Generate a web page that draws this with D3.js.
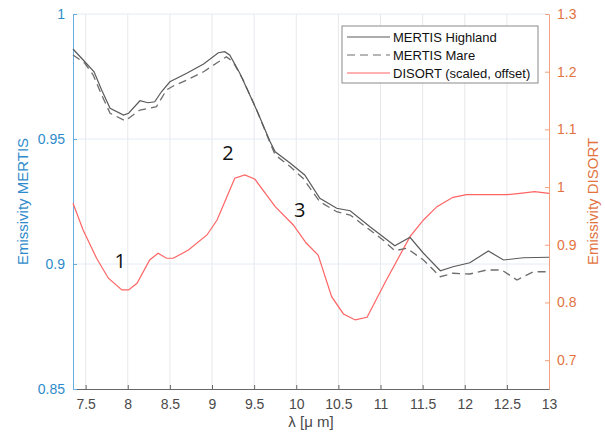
<!DOCTYPE html>
<html>
<head>
<meta charset="utf-8">
<script src="https://cdn.jsdelivr.net/npm/d3@7"></script>
<style>
  body { margin: 0; background: #fff; }
  svg { font-family: "Liberation Sans", Arial, sans-serif; }
</style>
</head>
<body>
<div id="chart"></div>
<script>
// wavelength [um] and emissivity values
const highlandX = [7.35, 7.49, 7.60, 7.69, 7.79, 7.95, 8.01, 8.145, 8.24, 8.32, 8.40, 8.50, 8.70, 8.90, 9.075, 9.15, 9.21, 9.33, 9.53, 9.69, 9.75, 9.93, 10.10, 10.28, 10.48, 10.64, 10.875, 11.03, 11.17, 11.35, 11.51, 11.71, 11.86, 12.06, 12.28, 12.46, 12.695, 13.0];
const highlandY = [0.986, 0.9809, 0.9769, 0.9696, 0.9623, 0.9596, 0.9603, 0.9653, 0.9645, 0.9649, 0.9689, 0.9729, 0.9763, 0.980, 0.9845, 0.9849, 0.9836, 0.9763, 0.9616, 0.9489, 0.9449, 0.9403, 0.9356, 0.9263, 0.9223, 0.9213, 0.9149, 0.9109, 0.9073, 0.9107, 0.9043, 0.8973, 0.8989, 0.9005, 0.9052, 0.9016, 0.9025, 0.9027];

const mareX = [7.35, 7.49, 7.59, 7.69, 7.79, 7.97, 8.145, 8.34, 8.46, 8.54, 8.70, 8.90, 9.06, 9.17, 9.25, 9.37, 9.53, 9.69, 9.75, 9.93, 10.08, 10.28, 10.48, 10.64, 10.875, 11.03, 11.17, 11.31, 11.51, 11.71, 11.86, 12.06, 12.26, 12.44, 12.62, 12.815, 13.0];
const mareY = [0.9836, 0.9803, 0.9756, 0.9676, 0.9603, 0.9573, 0.9616, 0.9629, 0.9696, 0.9712, 0.9736, 0.9769, 0.9805, 0.9829, 0.9809, 0.9736, 0.9616, 0.9484, 0.9436, 0.9389, 0.9343, 0.9249, 0.9209, 0.9196, 0.9136, 0.9096, 0.9053, 0.9063, 0.9016, 0.8949, 0.8963, 0.896, 0.8976, 0.8976, 0.8936, 0.8969, 0.8969];

const disortX = [7.35, 7.47, 7.63, 7.77, 7.93, 8.01, 8.11, 8.26, 8.36, 8.46, 8.54, 8.72, 8.94, 9.06, 9.27, 9.39, 9.51, 9.75, 9.965, 10.12, 10.26, 10.42, 10.56, 10.70, 10.84, 11.07, 11.35, 11.51, 11.67, 11.86, 12.02, 12.26, 12.50, 12.655, 12.83, 13.0];
const disortY = [0.9719, 0.9257, 0.8766, 0.842, 0.8217, 0.8217, 0.8333, 0.8737, 0.8853, 0.8766, 0.8766, 0.891, 0.917, 0.943, 1.0153, 1.021, 1.0135, 0.966, 0.9343, 0.9026, 0.8823, 0.81, 0.7801, 0.7697, 0.7743, 0.839, 0.914, 0.943, 0.966, 0.9823, 0.9868, 0.9868, 0.9868, 0.9892, 0.992, 0.9892];

const xTicks = [7.5, 8, 8.5, 9, 9.5, 10, 10.5, 11, 11.5, 12, 12.5, 13];
const leftTicks = [0.85, 0.9, 0.95, 1];
const rightTicks = [0.7, 0.8, 0.9, 1, 1.1, 1.2, 1.3];

const seriesNames = ["MERTIS Highland", "MERTIS Mare", "DISORT (scaled, offset)"];
const annotations = [
  {label: "1", x: 7.91, y: 0.8984},
  {label: "2", x: 9.19, y: 0.9416},
  {label: "3", x: 10.04, y: 0.9188}
];

const width = 605, height = 435;
const margin = {top: 14, right: 56, bottom: 46, left: 73};

const blue = "#2f8bcb", orange = "#e2733f";

const svg = d3.select("#chart").append("svg")
  .attr("width", width)
  .attr("height", height);

const x = d3.scaleLinear()
  .domain([7.35, 13])
  .range([margin.left, width - margin.right]);

const yL = d3.scaleLinear()
  .domain([0.85, 1])
  .range([height - margin.bottom, margin.top]);

const yR = d3.scaleLinear()
  .domain([0.65, 1.3])
  .range([height - margin.bottom, margin.top]);

// grid
svg.append("g").selectAll("line")
  .data(xTicks.slice(0, -1))
  .enter().append("line")
  .attr("x1", d => x(d)).attr("x2", d => x(d))
  .attr("y1", yL(0.85)).attr("y2", yL(1))
  .attr("stroke", "#e6e8ec").attr("stroke-width", 1);

svg.append("g").selectAll("line")
  .data([0.9, 0.95, 1])
  .enter().append("line")
  .attr("x1", x(7.35)).attr("x2", x(13))
  .attr("y1", d => yL(d)).attr("y2", d => yL(d))
  .attr("stroke", "#e3ecf6").attr("stroke-width", 1);

// x axis
const xAxis = svg.append("g")
  .attr("transform", `translate(0, ${height - margin.bottom})`)
  .call(d3.axisBottom(x).tickValues(xTicks).tickSize(-4).tickPadding(10).tickFormat(d3.format("")));
xAxis.select(".domain").attr("stroke", "#666");
xAxis.selectAll(".tick line").attr("stroke", "#666");
xAxis.selectAll("text").attr("fill", "#4a4a4a").style("font-size", "14px");

// left axis
const yAxisL = svg.append("g")
  .attr("transform", `translate(${margin.left}, 0)`)
  .call(d3.axisLeft(yL).tickValues(leftTicks).tickSize(-4).tickPadding(8).tickSizeOuter(0).tickFormat(d3.format("")));
yAxisL.select(".domain").attr("stroke", "#6aaee0");
yAxisL.selectAll(".tick line").attr("stroke", "#6aaee0");
yAxisL.selectAll("text").attr("fill", blue).style("font-size", "14px");

// right axis
const yAxisR = svg.append("g")
  .attr("transform", `translate(${width - margin.right}, 0)`)
  .call(d3.axisRight(yR).tickValues(rightTicks).tickSize(-4).tickPadding(8).tickSizeOuter(0).tickFormat(d3.format("")));
yAxisR.select(".domain").attr("stroke", "#f2a27c");
yAxisR.selectAll(".tick line").attr("stroke", "#f2a27c");
yAxisR.selectAll("text").attr("fill", orange).style("font-size", "14px");

// axis labels
svg.append("text")
  .attr("transform", "rotate(-90)")
  .attr("x", -(margin.top + height - margin.bottom) / 2)
  .attr("y", 28)
  .attr("text-anchor", "middle")
  .attr("fill", blue)
  .style("font-size", "15px")
  .text("Emissivity MERTIS");

svg.append("text")
  .attr("transform", "rotate(-90)")
  .attr("x", -(margin.top + height - margin.bottom) / 2)
  .attr("y", 598)
  .attr("text-anchor", "middle")
  .attr("fill", orange)
  .style("font-size", "15px")
  .text("Emissivity DISORT");

svg.append("text")
  .attr("x", 311)
  .attr("y", 427)
  .attr("text-anchor", "middle")
  .attr("fill", "#4a4a4a")
  .style("font-size", "15px")
  .text("λ [μ m]");

// curves
const toPts = (xs, ys) => xs.map((d, i) => [d, ys[i]]);

const lineL = d3.line().x(d => x(d[0])).y(d => yL(d[1]));
const lineR = d3.line().x(d => x(d[0])).y(d => yR(d[1]));

svg.append("path")
  .datum(toPts(disortX, disortY))
  .attr("fill", "none")
  .attr("stroke", "#ff6464")
  .attr("stroke-width", 1.2)
  .attr("d", lineR);

svg.append("path")
  .datum(toPts(mareX, mareY))
  .attr("fill", "none")
  .attr("stroke", "#6e6e6e")
  .attr("stroke-width", 1.3)
  .attr("stroke-dasharray", "8,5")
  .attr("d", lineL);

svg.append("path")
  .datum(toPts(highlandX, highlandY))
  .attr("fill", "none")
  .attr("stroke", "#5a5a5a")
  .attr("stroke-width", 1.2)
  .attr("d", lineL);

// annotations
svg.selectAll(".anno")
  .data(annotations)
  .enter().append("text")
  .attr("x", d => x(d.x))
  .attr("y", d => yL(d.y))
  .attr("text-anchor", "middle")
  .attr("fill", "#111")
  .style("font-size", "20px")
  .style("font-family", "'Open Sans', sans-serif")
  .text(d => d.label);

// legend
const legend = svg.append("g").attr("transform", "translate(342, 26)");
legend.append("rect")
  .attr("width", 196).attr("height", 57)
  .attr("fill", "#fff").attr("stroke", "#8a8a8a").attr("stroke-width", 1);

const legStyles = [
  {stroke: "#5a5a5a", dash: null},
  {stroke: "#6e6e6e", dash: "8,5"},
  {stroke: "#ff6464", dash: null}
];
seriesNames.forEach((name, i) => {
  legend.append("line")
    .attr("x1", 5).attr("x2", 48)
    .attr("y1", 11 + i * 18).attr("y2", 11 + i * 18)
    .attr("stroke", legStyles[i].stroke)
    .attr("stroke-width", 1.2)
    .attr("stroke-dasharray", legStyles[i].dash);
  legend.append("text")
    .attr("x", 51).attr("y", 16 + i * 18)
    .attr("fill", "#111")
    .style("font-size", "13px")
    .text(name);
});
</script>
</body>
</html>
